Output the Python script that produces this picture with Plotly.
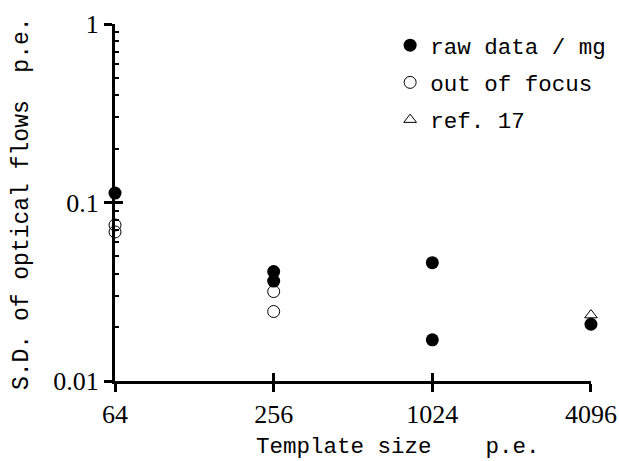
import math
import plotly.graph_objects as go

# Data
raw_x = [64, 256, 256, 1024, 1024, 4096]
raw_y = [0.113, 0.041, 0.0363, 0.046, 0.0170, 0.0208]
oof_x = [64, 64, 256, 256]
oof_y = [0.0748, 0.0684, 0.0317, 0.0245]
ref_x = [4096]
ref_y = [0.0234]

x_ticks = [64, 256, 1024, 4096]
x_ticktext = ["64", "256", "1024", "4096"]
y_ticks = [0.01, 0.1, 1]
y_ticktext = ["0.01", "0.1", "1"]

MONO = "Liberation Mono"
SERIF = "Liberation Serif"
NB = "\u00a0"

fig = go.Figure()
fig.add_trace(go.Scatter(
    x=ref_x, y=ref_y, mode="markers", name="ref." + NB + "17", legendrank=3,
    legendgroup="c",
    marker=dict(symbol="triangle-up-open", size=11, color="black", line=dict(width=1)),
    cliponaxis=False))
fig.add_trace(go.Scatter(
    x=oof_x, y=oof_y, mode="markers", name="out of focus", legendrank=2,
    legendgroup="b",
    marker=dict(symbol="circle-open", size=12, color="black", line=dict(width=1)),
    cliponaxis=False))
fig.add_trace(go.Scatter(
    x=raw_x, y=raw_y, mode="markers", name="raw data / mg", legendrank=1,
    legendgroup="a", xaxis="x2", yaxis="y2",
    marker=dict(symbol="circle", size=13, color="black"),
    cliponaxis=False))

xr = [math.log10(x_ticks[0]) - 1e-4, math.log10(x_ticks[-1]) + 1e-4]
yr = [math.log10(y_ticks[0]), math.log10(y_ticks[-1])]
common_x = dict(type="log", range=xr, tickvals=x_ticks, ticktext=x_ticktext,
                showgrid=False, zeroline=False)
common_y = dict(type="log", range=yr, tickvals=y_ticks, ticktext=y_ticktext,
                showgrid=False, zeroline=False)

fig.update_layout(
    width=619, height=461, autosize=False,
    margin=dict(l=115, r=28, t=24, b=80, autoexpand=False),
    plot_bgcolor="white", paper_bgcolor="white",
    showlegend=True,
    legend=dict(x=0.578, y=1.0, xanchor="left", yanchor="top",
                font=dict(family=MONO, size=22.5, color="black"),
                traceorder="grouped", tracegroupgap=5,
                bgcolor="rgba(0,0,0,0)", itemwidth=30),
    xaxis=dict(**common_x, showline=True, linewidth=3, linecolor="black",
               ticks="outside", ticklen=8, tickwidth=2.5, tickcolor="black",
               tickfont=dict(family=SERIF, size=26, color="black")),
    yaxis=dict(**common_y, showline=True, linewidth=3, linecolor="black",
               ticks="outside", ticklen=8, tickwidth=2.5, tickcolor="black",
               tickfont=dict(family=SERIF, size=26, color="black")),
    xaxis2=dict(**common_x, overlaying="x", anchor="y", side="bottom",
                showline=False, ticks="inside", ticklen=8, tickwidth=2.5,
                tickcolor="black", showticklabels=False),
    yaxis2=dict(**common_y, overlaying="y", anchor="x", side="left",
                showline=False, ticks="inside", ticklen=8, tickwidth=2.5,
                tickcolor="black", showticklabels=False,
                minor=dict(ticks="inside", ticklen=4, tickwidth=1.5,
                           tickcolor="black", dtick="D1", showgrid=False)),
    annotations=[
        dict(text="Template" + NB + "size" + NB * 4 + "p.e.", xref="paper", yref="paper",
             x=0.5935, y=-0.185, xanchor="center", yanchor="middle", showarrow=False,
             font=dict(family=MONO, size=22.5, color="black")),
        dict(text="S.D." + NB + "of" + NB + "optical" + NB + "flows" + NB * 2 + "p.e.",
             xref="paper", yref="paper", x=-0.195, y=0.496, textangle=-90,
             xanchor="center", yanchor="middle", showarrow=False,
             font=dict(family=MONO, size=23, color="black")),
    ],
)

post = ("document.body.style.margin='0';document.body.style.overflow='hidden';"
        "Plotly.relayout('{plot_id}', {width: 619, height: 461});")
fig.write_html("out.html", config={"responsive": False, "displayModeBar": False},
               post_script=post, default_width="619px", default_height="461px")
